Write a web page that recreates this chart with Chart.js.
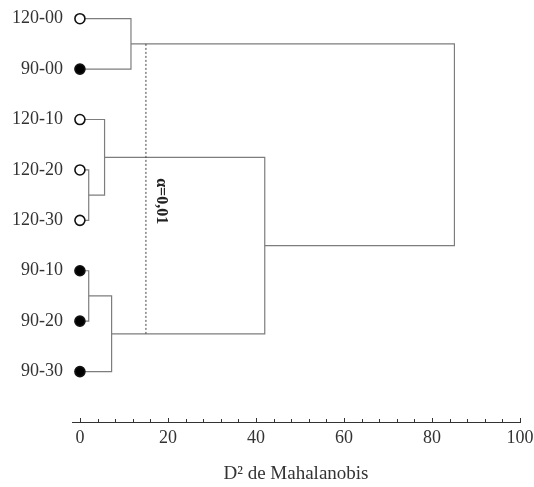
<!DOCTYPE html>
<html lang="pt">
<head>
  <meta charset="UTF-8">
  <title>Dendrograma</title>
  <script src="https://cdn.jsdelivr.net/npm/chart.js@4.4.1/dist/chart.umd.min.js"></script>
  <style>
    html, body { margin: 0; padding: 0; background: #fff; }
    canvas { display: block; }
  </style>
</head>
<body>
  <canvas id="dendro" width="534" height="487"></canvas>
  <script>
    // leaves, top to bottom
    const leaves = ['120-00', '90-00', '120-10', '120-20', '120-30', '90-10', '90-20', '90-30'];
    const leafFilled = [false, true, false, false, false, true, true, true];
    // linkage: cluster mergeA[k] + mergeB[k] at distance mergeD[k]; new clusters get ids 8, 9, ...
    const mergeA = [3, 5, 2, 9, 0, 10, 12];
    const mergeB = [4, 6, 8, 7, 1, 11, 13];
    const mergeD = [2.0, 2.0, 5.6, 7.2, 11.6, 42.0, 85.1];
    const cutoff = 15;
    const cutLabel = 'α=0,01';
    const xTicks = [0, 4, 8, 12, 16, 20, 24, 28, 32, 36, 40, 44, 48, 52, 56, 60, 64, 68, 72, 76, 80, 84, 88, 92, 96, 100];
    const xLabelled = [0, 20, 40, 60, 80, 100];

    const serif = '"Liberation Serif", "Times New Roman", serif';
    const textColor = '#333';

    // build the U-shaped links from the linkage
    const pos = leaves.map((_, i) => i);
    const hgt = leaves.map(() => 0);
    const linkSets = [];
    const cutYs = [];
    mergeA.forEach((a, k) => {
      const b = mergeB[k], d = mergeD[k];
      linkSets.push({
        data: [{ x: hgt[a], y: pos[a] }, { x: d, y: pos[a] }, { x: d, y: pos[b] }, { x: hgt[b], y: pos[b] }],
        showLine: true,
        borderColor: '#7d7d7d',
        borderWidth: 1.2,
        pointRadius: 0,
        order: 2
      });
      // horizontal lines crossing the cut
      if (d > cutoff) {
        if (hgt[a] < cutoff) cutYs.push(pos[a]);
        if (hgt[b] < cutoff) cutYs.push(pos[b]);
      }
      pos.push((pos[a] + pos[b]) / 2);
      hgt.push(d);
    });

    const cutSet = {
      data: [{ x: cutoff, y: Math.min(...cutYs) }, { x: cutoff, y: Math.max(...cutYs) }],
      showLine: true,
      borderColor: '#444',
      borderWidth: 1,
      borderDash: [2, 2],
      pointRadius: 0,
      order: 1
    };

    const leafSet = {
      data: leaves.map((_, i) => ({ x: 0, y: i })),
      pointRadius: 5,
      pointBackgroundColor: leafFilled.map(f => f ? '#000' : '#fff'),
      pointBorderColor: '#111',
      pointBorderWidth: 1.6,
      order: 0
    };

    // rotated significance label next to the cut line
    const cutLabelPlugin = {
      id: 'cutLabel',
      afterDatasetsDraw(chart) {
        const { ctx, scales: { x, y } } = chart;
        ctx.save();
        ctx.translate(x.getPixelForValue(cutoff) + 15, y.getPixelForValue(3.62));
        ctx.rotate(Math.PI / 2);
        ctx.font = 'bold 16px ' + serif;
        ctx.fillStyle = '#222';
        ctx.textAlign = 'center';
        ctx.textBaseline = 'middle';
        ctx.fillText(cutLabel, 0, 0);
        ctx.restore();
      }
    };

    // tick marks pointing up from the x axis line
    const upTicksPlugin = {
      id: 'upTicks',
      afterDraw(chart) {
        const { ctx, scales: { x } } = chart;
        ctx.save();
        ctx.strokeStyle = '#333';
        ctx.lineWidth = 1;
        xTicks.forEach(v => {
          const px = Math.round(x.getPixelForValue(v)) + 0.5;
          const len = xLabelled.includes(v) ? 4 : 3;
          ctx.beginPath();
          ctx.moveTo(px, x.top);
          ctx.lineTo(px, x.top - len);
          ctx.stroke();
        });
        ctx.restore();
      }
    };

    new Chart(document.getElementById('dendro'), {
      type: 'scatter',
      data: { datasets: [...linkSets, cutSet, leafSet] },
      plugins: [cutLabelPlugin, upTicksPlugin],
      options: {
        responsive: false,
        animation: false,
        layout: { padding: 0 },
        plugins: {
          legend: { display: false },
          tooltip: { enabled: false }
        },
        scales: {
          x: {
            type: 'linear',
            min: -1.8,
            max: 100,
            afterBuildTicks: s => { s.ticks = xTicks.map(v => ({ value: v })); },
            afterFit: s => { s.height = 65; s.paddingLeft = 0; s.paddingRight = 14; },
            ticks: {
              autoSkip: false,
              maxRotation: 0,
              padding: 5,
              color: textColor,
              font: { family: serif, size: 18 },
              callback: v => xLabelled.includes(v) ? v : ''
            },
            grid: { drawOnChartArea: false, drawTicks: false },
            border: { color: '#333', width: 1 },
            title: {
              display: true,
              text: 'D² de Mahalanobis',
              color: textColor,
              font: { family: serif, size: 19 },
              padding: { top: 0, bottom: 2 }
            }
          },
          y: {
            type: 'linear',
            reverse: true,
            min: -0.24,
            max: 8,
            afterBuildTicks: s => { s.ticks = leaves.map((_, i) => ({ value: i })); },
            afterFit: s => { s.width = 72; s.paddingTop = 0; s.paddingBottom = 0; },
            ticks: {
              padding: 9,
              color: textColor,
              font: { family: serif, size: 18 },
              callback: v => leaves[v]
            },
            grid: { display: false, drawTicks: false },
            border: { display: false }
          }
        }
      }
    });
  </script>
</body>
</html>
